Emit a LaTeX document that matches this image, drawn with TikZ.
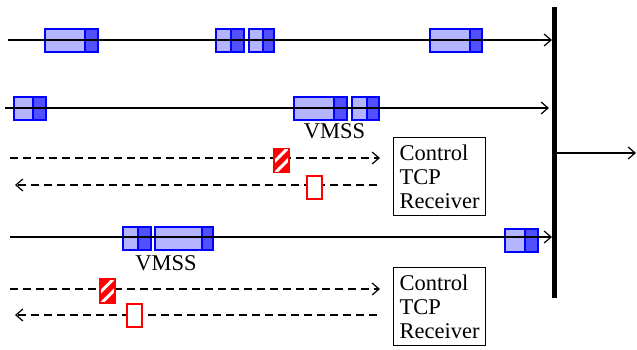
\documentclass[tikz,border=0pt]{standalone}
\usepackage{fontspec}
\setmainfont{Liberation Serif}
\usetikzlibrary{arrows.meta}
\definecolor{pktedge}{RGB}{0,0,255}
\definecolor{pktlight}{RGB}{180,180,255}
\definecolor{pktdark}{RGB}{80,80,255}
\definecolor{ackred}{RGB}{255,0,0}
% two-part packet: name, left, split, right, top, bottom
\newcommand\pktbox[6]{%
  \node[pkl, anchor=north west, minimum width={#3pt-#2pt}, minimum height={#6pt-#5pt}] (#1a) at (#2,#5) {};
  \node[pkd, anchor=north west, minimum width={#4pt-#3pt}, minimum height={#6pt-#5pt}] (#1b) at (#3,#5) {};
}
\begin{document}
\begin{tikzpicture}[x=1pt,y=-1pt,
  font=\fontsize{22.5}{24}\selectfont,
  pkl/.style={draw=pktedge, fill=pktlight, line width=1.6pt, inner sep=0pt},
  pkd/.style={draw=pktedge, fill=pktdark, line width=1.6pt, inner sep=0pt},
  flow/.style={line width=1.2pt, -{Straight Barb[length=7pt,width=12pt]}},
  ctlflow/.style={flow, dash pattern=on 8pt off 5pt},
  hatchbox/.style={draw=ackred, line width=1.4pt, inner sep=0pt,
    minimum width=15pt, minimum height=24pt,
    path picture={
      \fill[ackred] (path picture bounding box.south west) rectangle (path picture bounding box.north east);
      \foreach \o in {-6,6}
        \draw[white, line width=3pt] ([shift={(\o pt-14pt,-14pt)}]path picture bounding box.center) -- ++(28pt,28pt);
    }},
  ackbox/.style={draw=ackred, fill=white, line width=1.4pt, inner sep=0pt,
    minimum width=15pt, minimum height=23pt},
  ctrl/.style={draw, line width=1.2pt, align=left, inner sep=0pt,
    minimum width=92pt, minimum height=78pt, anchor=north west}
]
\useasboundingbox (0,0) rectangle (637,349);

% packets on the data flows
\pktbox{p11}{44}{84}{97}{28}{51}
\pktbox{p12}{215}{230}{243}{28}{51}
\pktbox{p13}{248}{262}{273}{28}{51}
\pktbox{p14}{429}{469}{481}{28}{51}
\pktbox{p21}{13}{32}{45}{96}{119}
\pktbox{p22}{293}{333}{346}{96}{119}
\pktbox{p23}{351}{366}{378}{96}{119}
\pktbox{p31}{122}{137}{150}{226}{249}
\pktbox{p32}{154}{201}{212}{226}{249}
\pktbox{p33}{504}{524}{537}{228}{251}

% bottleneck link
\node[fill=black, inner sep=0pt, minimum width=5pt, minimum height=291pt, anchor=north] (bar) at (554.5,7) {};

% end points
\coordinate (r1s) at (8,40);   \coordinate (r1e) at (552,40);
\coordinate (r2s) at (5,108);  \coordinate (r2e) at (549,108);
\coordinate (r3s) at (10,237); \coordinate (r3e) at (552,237);
\coordinate (out) at (636,153);
\coordinate (c1s) at (10,158); \coordinate (c1e) at (380,158);
\coordinate (k1s) at (377,185); \coordinate (k1e) at (15,185);
\coordinate (c2s) at (10,289); \coordinate (c2e) at (380,289);
\coordinate (k2s) at (377,315); \coordinate (k2e) at (15,315);

% flows
\draw[flow] (r1s) -- (r1e);
\draw[flow] (r2s) -- (r2e);
\draw[flow] (r3s) -- (r3e);
\draw[flow] (bar.east |- out) -- (out);
\draw[ctlflow] (c1s) -- (c1e);
\draw[ctlflow] (k1s) -- (k1e);
\draw[ctlflow] (c2s) -- (c2e);
\draw[ctlflow] (k2s) -- (k2e);

% control packets and acknowledgements
\node[hatchbox] (h1) at (281.5,160.5) {};
\node[ackbox] (a1) at (314.5,187.5) {};
\node[hatchbox] (h2) at (107.5,291) {};
\node[ackbox] (a2) at (134.5,315.5) {};

% labels
\node[anchor=base, inner sep=0pt] (v1) at (334.5,138) {VMSS};
\node[anchor=base, inner sep=0pt] (v2) at (166,270) {VMSS};
\node[ctrl] (rx1) at (393,137) {Control\\TCP\\Receiver};
\node[ctrl] (rx2) at (393,267) {Control\\TCP\\Receiver};
\end{tikzpicture}
\end{document}
